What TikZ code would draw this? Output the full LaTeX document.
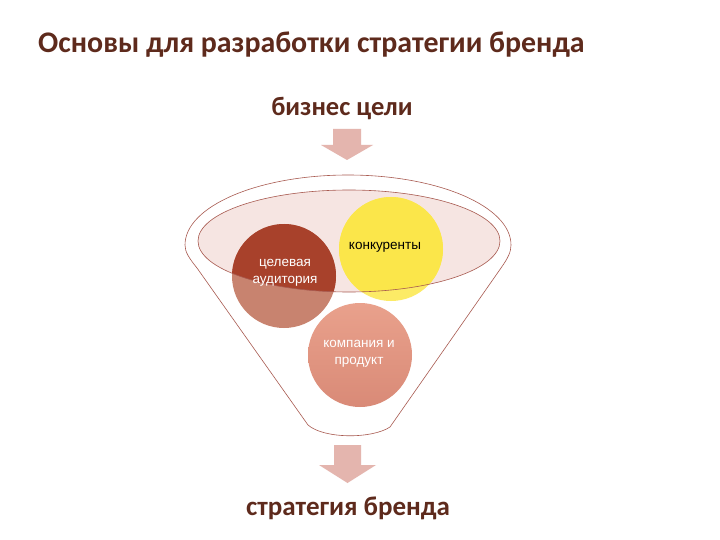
\documentclass[tikz,border=0pt]{standalone}
\usepackage{fontspec}
\setmainfont{Carlito}
\newfontfamily\lblfont{Liberation Sans}
\definecolor{titlec}{HTML}{5E2A1C}
\definecolor{arrowc}{HTML}{E4B5AE}
\definecolor{rimc}{HTML}{A85A50}
\definecolor{ellfill}{HTML}{F6E5E2}
\definecolor{reddark}{HTML}{A8412B}
\definecolor{redlight}{HTML}{C8836F}
\definecolor{yellowin}{HTML}{FBE64A}
\definecolor{yellowout}{HTML}{FCEB66}
\definecolor{salmontop}{HTML}{E9A18C}
\definecolor{salmonbot}{HTML}{D98A77}
\begin{document}
\begin{tikzpicture}[x=1pt,y=-1pt,
  heading/.style={inner sep=0, text=titlec},
  blob/.style={circle, inner sep=0, minimum size=104pt},
  blobtext/.style={align=center, font=\lblfont\fontsize{13.5}{16.5}\selectfont, inner sep=0},
  blockarrow/.style={fill=arrowc},
  rimline/.style={draw=rimc, line width=0.6pt}]
\useasboundingbox (0,0) rectangle (720,540);
\fill[white] (0,0) rectangle (720,540);

\node[heading, anchor=base west, font=\fontsize{29.9}{32}\selectfont\bfseries] (title) at (38,53) {Основы для разработки стратегии бренда};
\node[heading, anchor=base, font=\fontsize{26.5}{30}\selectfont\bfseries] (goals) at (342,116) {бизнес цели};
\node[heading, anchor=base, font=\fontsize{27}{30}\selectfont\bfseries] (strategy) at (348,515) {стратегия бренда};

% top arrow
\fill[blockarrow] (333,129) -- (361,129) -- (361,145) -- (373,145) -- (347,160) -- (321,145) -- (333,145) -- cycle;

% funnel outline
\draw[rimline] (308,425) -- (197,268) .. controls (189,258) and (185,252) .. (185,245)
  arc[start angle=180, end angle=360, x radius=163, y radius=70]
  .. controls (511,252) and (508,258) .. (501,268) -- (390,427)
  .. controls (372,439) and (324,439) .. (308,425) -- cycle;

% inner ellipse fill
\fill[ellfill] (349,241) ellipse [x radius=151, y radius=51];

% circles (outside colours)
\node[blob, fill=redlight] (aud) at (284,276) {};
\node[blob, fill=yellowout] (comp) at (391,249) {};
\node[blob, top color=salmontop, bottom color=salmonbot] (prod) at (360,355) {};

% circle parts inside the ellipse
\begin{scope}
\clip (349,241) ellipse [x radius=151, y radius=51];
\fill[reddark] (aud.center) circle (52);
\fill[yellowin] (comp.center) circle (52);
\end{scope}

\draw[draw=rimc, line width=0.6pt] (349,241) ellipse [x radius=151, y radius=51];

\node[blobtext, text=white] (audt) at (285,273) {целевая\\аудитория};
\node[blobtext, text=black] (compt) at (385,247) {конкуренты};
\node[blobtext, text=white] (prodt) at (359,354) {компания и\\продукт};

% bottom arrow
\fill[blockarrow] (334,445) -- (361,445) -- (361,465) -- (376,465) -- (347.5,483) -- (319,465) -- (334,465) -- cycle;
\end{tikzpicture}
\end{document}
